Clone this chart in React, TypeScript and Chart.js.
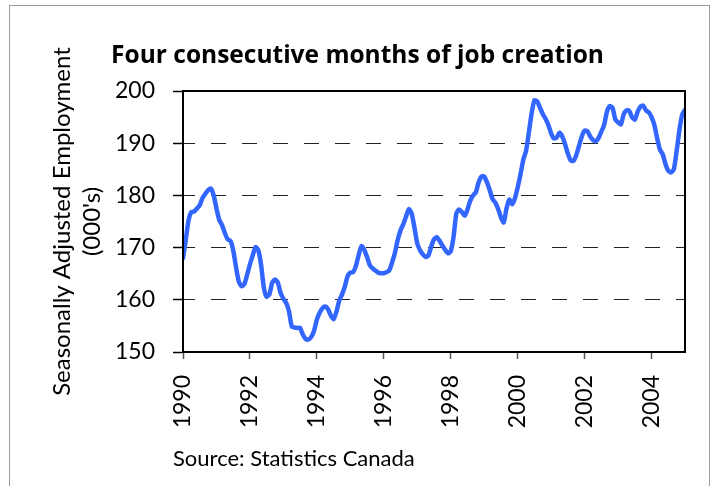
import React, { useEffect, useRef } from "react";
import { Chart, registerables } from "chart.js";

Chart.register(...registerables);

const titleText = "Four consecutive months of job creation";
const yTitleLines = ["Seasonally Adjusted Employment", "(000's)"];
const sourceText = "Source: Statistics Canada";
const startYear = 1990;
const yearTickStep = 2;
const yMin = 150;
const yMax = 200;
const yStep = 10;

// Monthly seasonally adjusted employment (000's), Jan 1990 .. Jan 2005
const employment = [
  168.0, 171.5, 175.3, 176.8, 176.9, 177.5, 178.1, 179.5, 180.3, 181.0, 181.3, 180.0,
  177.5, 175.3, 174.3, 172.8, 171.6, 171.3, 169.5, 166.3, 163.5, 162.6, 163.0, 164.8,
  166.8, 168.5, 170.1, 169.5, 166.7, 162.3, 160.6, 161.1, 163.3, 163.9, 163.3, 161.3,
  160.2, 159.4, 157.8, 154.9, 154.7, 154.6, 154.6, 153.3, 152.5, 152.4, 152.9, 154.1,
  156.2, 157.5, 158.4, 158.7, 158.2, 157.0, 156.3, 157.7, 159.8, 161.0, 162.5, 164.5,
  165.2, 165.3, 166.5, 168.6, 170.3, 169.6, 168.2, 166.6, 166.0, 165.6, 165.2, 165.1,
  165.1, 165.3, 165.7, 167.2, 169.0, 171.5, 173.3, 174.5, 176.0, 177.4, 176.5, 173.8,
  170.8, 169.5, 168.7, 168.2, 168.5, 170.2, 171.6, 172.0, 171.3, 170.4, 169.6, 168.9,
  169.3, 172.0, 176.5, 177.3, 176.8, 176.1, 177.3, 179.0, 180.0, 180.6, 182.5, 183.6,
  183.6, 182.5, 181.0, 179.3, 178.6, 177.4, 175.8, 174.8, 177.5, 179.2, 178.3, 179.4,
  181.5, 184.0, 186.8, 188.5, 192.0, 195.7, 198.2, 198.0, 196.8, 195.6, 194.7, 193.5,
  191.9, 190.9, 191.1, 192.0, 191.3, 189.8, 188.0, 186.7, 186.6, 187.7, 189.5, 191.3,
  192.4, 192.3, 191.3, 190.6, 190.4, 191.0, 192.2, 193.5, 196.0, 197.1, 196.8, 194.6,
  194.0, 193.6, 195.5, 196.3, 196.2, 195.0, 194.5, 196.0, 197.0, 197.2, 196.3, 195.9,
  195.0, 193.5, 191.0, 188.8, 187.9, 186.0, 184.7, 184.4, 185.0, 188.5, 192.5, 195.5,
  196.4,
];

const FONT = "Lato, 'Open Sans', 'DejaVu Sans', sans-serif";
const TITLE_FONT = "'Open Sans', Lato, 'DejaVu Sans', sans-serif";

const framePlugin = {
  id: "frameAndSource",
  afterDraw(chart: any) {
    const { ctx, chartArea } = chart;
    ctx.save();
    ctx.strokeStyle = "#000";
    ctx.lineWidth = 2;
    ctx.strokeRect(chartArea.left, chartArea.top, chartArea.right - chartArea.left, chartArea.bottom - chartArea.top);
    ctx.fillStyle = "#000";
    ctx.font = `22px ${FONT}`;
    ctx.textAlign = "left";
    ctx.textBaseline = "alphabetic";
    ctx.fillText(sourceText, 173, 466);
    ctx.restore();
  },
};

export default function App() {
  const ref = useRef<HTMLCanvasElement | null>(null);

  useEffect(() => {
    if (!ref.current) return;
    const points = employment.map((v, i) => ({ x: i, y: v }));
    const chart = new Chart(ref.current, {
      type: "line",
      data: {
        datasets: [
          {
            data: points,
            borderColor: "#3366ff",
            borderWidth: 4.5,
            pointRadius: 0,
            tension: 0.2,
            borderJoinStyle: "round",
            borderCapStyle: "round",
            fill: false,
          },
        ],
      },
      options: {
        animation: false,
        responsive: false,
        devicePixelRatio: 1,
        layout: { padding: { left: 0, right: 0, top: 0, bottom: 0 } },
        plugins: {
          legend: { display: false },
          tooltip: { enabled: false },
          title: {
            display: true,
            text: titleText,
            color: "#000",
            font: { family: TITLE_FONT, size: 24.5, weight: "bold", lineHeight: 1.2 },
            padding: { top: 41, bottom: 20.6 },
          },
        },
        scales: {
          x: {
            type: "linear",
            min: 0,
            max: employment.length - 1,
            afterFit: (scale: any) => {
              scale.height = 134;
            },
            ticks: {
              stepSize: 12 * yearTickStep,
              includeBounds: false,
              autoSkip: false,
              minRotation: 90,
              maxRotation: 90,
              padding: 16,
              color: "#000",
              font: { family: FONT, size: 23 },
              callback: (v: any) => String(startYear + Number(v) / 12),
            },
            grid: {
              drawOnChartArea: false,
              drawTicks: true,
              tickLength: 7,
              tickColor: "#555",
              tickWidth: 1.5,
            },
            border: { display: true, color: "#000", width: 2 },
          },
          y: {
            type: "linear",
            min: yMin,
            max: yMax,
            afterFit: (scale: any) => {
              scale.width = 183;
            },
            ticks: {
              stepSize: yStep,
              padding: 18,
              color: "#000",
              font: { family: FONT, size: 23 },
            },
            grid: {
              color: (ctx: any) =>
                ctx.tick && (ctx.tick.value === yMin || ctx.tick.value === yMax) ? "rgba(0,0,0,0)" : "#222",
              lineWidth: 1,
              drawTicks: true,
              tickLength: 10,
              tickColor: "#000",
              tickWidth: 1.5,
            },
            border: { display: true, color: "#000", width: 2, dash: [15, 16], dashOffset: 4 },
            title: {
              display: true,
              text: yTitleLines,
              color: "#000",
              font: { family: FONT, size: 24, lineHeight: 1.25 },
              padding: { top: 47, bottom: 0 },
            },
          },
          yRight: {
            type: "linear",
            position: "right",
            display: true,
            min: yMin,
            max: yMax,
            afterFit: (scale: any) => {
              scale.width = 30;
            },
            ticks: { display: false },
            grid: { display: false, drawTicks: false },
            border: { display: false },
          },
        },
      },
      plugins: [framePlugin],
    });
    return () => chart.destroy();
  }, []);

  return (
    <div
      style={{
        position: "fixed",
        left: 0,
        top: 0,
        width: 715,
        height: 486,
        overflow: "hidden",
        background: "#fff",
      }}
    >
      <div
        style={{
          position: "absolute",
          left: 9,
          top: 5,
          width: 701,
          height: 520,
          border: "1px solid #9a9a9a",
          boxSizing: "border-box",
        }}
      />
      <canvas
        ref={ref}
        width={715}
        height={486}
        style={{ position: "absolute", left: 0, top: 0, width: 715, height: 486 }}
      />
    </div>
  );
}
